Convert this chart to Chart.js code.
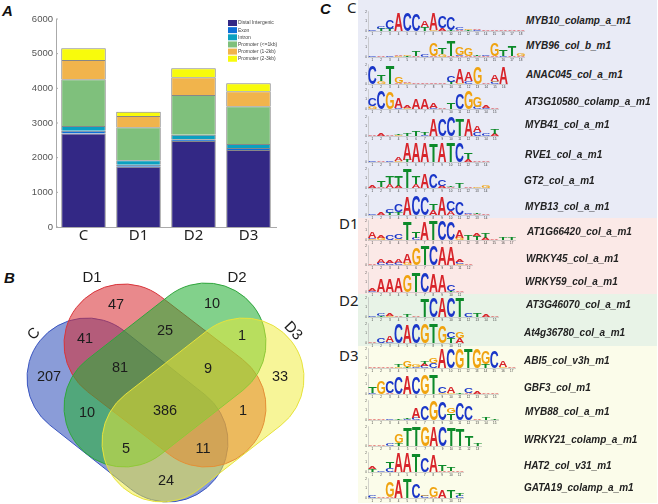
<!DOCTYPE html>
<html>
<head>
<meta charset="utf-8">
<script src="https://cdn.jsdelivr.net/npm/chart.js@4"></script>
<style>
html, body { margin: 0; padding: 0; background: #fff; }
#page { position: relative; width: 658px; height: 504px; overflow: hidden; font-family: "Liberation Sans", sans-serif; }
#page canvas, .block, .panel, .group, .motif { position: absolute; }
.panel { font: italic bold 15px "Liberation Sans", sans-serif; color: #111; line-height: 15px; }
.group { font: 15px "Noto Sans", sans-serif; color: #222; line-height: 15px; }
.motif { font: italic bold 10px "Liberation Sans", sans-serif; color: #222; white-space: nowrap; line-height: 12px; }
</style>
</head>
<body>
<div id="page"></div>
<script>
// ---- A: peak annotation ----
const samples = ['C', 'D1', 'D2', 'D3'];
const annoNames = ['Distal Intergenic', 'Exon', 'Intron', 'Promoter (<=1kb)', 'Promoter (1-2kb)', 'Promoter (2-3kb)'];
const annoColors = ['#332885', '#0d6fd8', '#0ba0c0', '#7fc07c', '#f1b44c', '#f8fb0c'];
const distal = [2700, 1740, 2480, 2220];
const exon = [80, 58, 50, 60];
const intron = [135, 125, 133, 115];
const prom1k = [1345, 952, 1145, 1087];
const prom2k = [555, 327, 509, 432];
const prom3k = [340, 125, 260, 231];
const annoTicks = [0, 1000, 2000, 3000, 4000, 5000, 6000];

// ---- B: venn ----
const vennCounts = [47, 10, 41, 25, 1, 207, 81, 9, 33, 10, 386, 1, 5, 11, 24];
const vennSets = ['C', 'D1', 'D2', 'D3'];

// ---- C: motif logos, letter + height in tenths of a bit, bottom to top ----
const motifNames = ['MYB10_colamp_a_m1', 'MYB96_col_b_m1', 'ANAC045_col_a_m1', 'AT3G10580_colamp_a_m1', 'MYB41_col_a_m1', 'RVE1_col_a_m1', 'GT2_col_a_m1', 'MYB13_col_a_m1',
    'AT1G66420_col_a_m1', 'WRKY45_col_a_m1', 'WRKY59_col_a_m1', 'AT3G46070_col_a_m1', 'At4g36780_col_a_m1',
    'ABI5_col_v3h_m1', 'GBF3_col_m1', 'MYB88_col_a_m1', 'WRKY21_colamp_a_m1', 'HAT2_col_v31_m1', 'GATA19_colamp_a_m1'];
const motifLogos = [
    'C1 T2C2 T2C9 A19 C19 C18 T4A6 G1A17 A3C12 T1C13 A1C2 T1G1 C1A1 A1 A1 A1 A1 A1',
    'C1 A1 C1 G1A1 T1G1 A1T5 C2 A1G14 G3T7 A1T16 A1C1G8 A1G8 A1T1 A1C1 A1G13 C1T7 A1T10 A1G3',
    'C19 G3T6 T19 A1G6 G1A1 A1 A1 A1 A1 T2C6 G1A15 C3A9 G18 A1 C2G1A6 A18',
    'G3C8 C19 G17 C1A10 G1A2 A11 A11 C1A5 A1 T6 C16 G19 C2G11 C1A3 A1',
    'A1 A2 A1 G1T1 T2 T5 C1T3 A18 C18 C20 T17 A17 C4A6 C3 A2T5',
    'C1 A1 C1 G1A4 T2A17 A20 A20 T19 A20 T20 C20 A3T7 A1 A1',
    'A2 A1T6 A4T8 A2T11 T20 A4T8 A15 C15 A2C6 A1T1 T5 A1 G1 G2',
    'C1 A2 T2C4 T3C8 A19 C20 C19 A5T6 A19 A4C11 C13 A1C1 A1T1 A1',
    'G1C1A6 G2A3 C5 G1C5 T19 C2T7 A19 T20 C20 C19 G2A8 T5 T4A3 A2T5 A1 T3 T3',
    'A1 C2A4 C2A3 C2A4 G2A9 G17 T20 C20 A19 A19 G1C2A3 A1',
    'C1A3 A14 A14 A15 G18 T20 C20 A19 A18 T1C6 A1',
    'C1 T1C2 G1A2 A1 T2 A1 T19 C20 A20 C20 T20 C4 T4 A2 A1',
    'A1 C5 C1A6 C20 A19 C20 G20 T20 G17 T5C6 A5G7',
    'A1 A1 A1 G1T2 T1G6 C1G2 C2A2T2 C5G5 A20 C20 G20 T20 G20 T4G13 C18 G1A6 A1',
    'C1T6 G14 A1C12 C18 A19 C18 G20 T20 G1C6 G1A6 T1 A1C5 A2 A1 A1',
    'A1 A1 C1 T1 C1T1 C2A11 C15 G20 C19 T7G5 C17 C15 A1 T2 T1',
    'A1 A1 C3 T3G9 T19 T20 G20 A20 C20 T19 T18 T10 T3',
    'T3A3 C1 C4T6 A20 A20 T19 C15 A17 A1T6 A1T4 A1',
    'C2 A1 A1G16 A19 T20 C15 C2G1 A1G10 A8 T8 C2T3'
];

const page = document.getElementById('page');
const letterColors = { A: '#d8242a', C: '#1a36c8', G: '#f0a30f', T: '#0d8a2a' };

function place(tag, className, text, css) {
    const el = document.createElement(tag);
    el.className = className;
    if (text) el.textContent = text;
    el.style.cssText = css;
    page.appendChild(el);
    return el;
}

function addCanvas(left, top, width, height) {
    const c = place('canvas', '', '', `left:${left}px;top:${top}px;width:${width}px;height:${height}px;`);
    c.width = width;
    c.height = height;
    return c;
}

// coloured bands behind panel C
place('div', 'block', '', 'left:358px;top:0;width:299px;height:218px;background:#e9ebf6;');
place('div', 'block', '', 'left:358px;top:218px;width:299px;height:76px;background:#fbe9e7;');
place('div', 'block', '', 'left:358px;top:294px;width:299px;height:52px;background:#e8f3e7;');
place('div', 'block', '', 'left:358px;top:346px;width:299px;height:157px;background:#fbfcea;');

place('div', 'panel', 'A', 'left:2px;top:3px;');
place('div', 'panel', 'B', 'left:4px;top:270px;');
place('div', 'panel', 'C', 'left:320px;top:1px;');
[['C', 347, 0], ['D1', 339, 216], ['D2', 339, 293], ['D3', 339, 348]].forEach(g => {
    place('div', 'group', g[0], `left:${g[1]}px;top:${g[2]}px;`);
});

// ---- A ----
const annoLegend = {
    id: 'annoLegend',
    afterDraw(chart) {
        const ctx = chart.ctx;
        ctx.save();
        ctx.font = '5px "Liberation Sans"';
        ctx.textBaseline = 'middle';
        chart.data.datasets.forEach((ds, i) => {
            const y = 23 + i * 7.15;
            ctx.fillStyle = ds.backgroundColor;
            ctx.fillRect(228, y - 3, 9, 6);
            ctx.fillStyle = '#444';
            ctx.fillText(ds.label, 238, y);
        });
        // small inward ticks on the y axis
        ctx.strokeStyle = '#aaa';
        ctx.lineWidth = 1;
        annoTicks.forEach(v => {
            const y = chart.scales.y.getPixelForValue(v);
            ctx.beginPath();
            ctx.moveTo(chart.chartArea.left, y);
            ctx.lineTo(chart.chartArea.left + 2, y);
            ctx.stroke();
        });
        ctx.restore();
    }
};

const annoValues = [distal, exon, intron, prom1k, prom2k, prom3k];
new Chart(addCanvas(0, 0, 330, 260), {
    type: 'bar',
    data: {
        labels: samples,
        datasets: annoNames.map((name, i) => ({
            label: name,
            data: annoValues[i],
            backgroundColor: annoColors[i],
            borderColor: 'rgba(95,95,95,0.75)',
            borderWidth: 1,
            barPercentage: 0.81,
            categoryPercentage: 1
        }))
    },
    options: {
        responsive: false,
        animation: false,
        layout: { padding: { top: 19, right: 54 } },
        plugins: { legend: { display: false }, tooltip: { enabled: false } },
        scales: {
            x: {
                stacked: true,
                grid: { display: false, drawTicks: false },
                border: { color: '#aaa', width: 1 },
                ticks: { color: '#222', padding: 0, font: { family: 'Noto Sans', size: 15 } },
                afterFit: s => { s.height = 33; }
            },
            y: {
                stacked: true,
                min: 0,
                max: 6000,
                afterBuildTicks: s => { s.ticks = annoTicks.map(v => ({ value: v })); },
                grid: { display: false, drawTicks: false },
                border: { color: '#aaa', width: 1 },
                ticks: { color: '#555', padding: 3, callback: v => String(v), font: { family: 'Liberation Sans', size: 9.5 } },
                afterFit: s => { s.width = 56; }
            }
        }
    },
    plugins: [annoLegend]
});

// ---- B ----
const vennSpots = [[116, 45], [212, 44], [85, 79], [165, 71], [242, 76], [49, 117], [120, 108], [208, 109], [280, 117],
    [87, 153], [165, 151], [243, 151], [126, 189], [203, 189], [166, 221]];
const vennEnds = [[87, 118, 168, 182], [124, 84, 206, 147], [206, 83, 124, 147], [244, 118, 162, 182]];
const vennFill = ['rgba(60,90,190,0.6)', 'rgba(215,40,45,0.55)', 'rgba(40,175,55,0.58)', 'rgba(240,235,50,0.5)'];
const vennLine = ['#3a55c0', '#d8343a', '#2fa53c', '#e6e23a'];
const vennTitle = [[34, 74, -50], [92, 18, 0], [237, 18, 0], [293, 71, 47]];

const vennPlugin = {
    id: 'vennPlugin',
    beforeDatasetsDraw(chart) {
        const ctx = chart.ctx, sx = chart.scales.x, sy = chart.scales.y;
        const r = sx.getPixelForValue(60) - sx.getPixelForValue(0);
        vennEnds.forEach((e, i) => {
            const x1 = sx.getPixelForValue(e[0]), y1 = sy.getPixelForValue(e[1]);
            const x2 = sx.getPixelForValue(e[2]), y2 = sy.getPixelForValue(e[3]);
            const ang = Math.atan2(y2 - y1, x2 - x1);
            ctx.beginPath();
            ctx.arc(x1, y1, r, ang + Math.PI / 2, ang + 3 * Math.PI / 2);
            ctx.arc(x2, y2, r, ang - Math.PI / 2, ang + Math.PI / 2);
            ctx.closePath();
            ctx.fillStyle = vennFill[i];
            ctx.fill();
            ctx.lineWidth = 1;
            ctx.strokeStyle = vennLine[i];
            ctx.stroke();
        });
    },
    afterDatasetsDraw(chart) {
        const ctx = chart.ctx, sx = chart.scales.x, sy = chart.scales.y;
        ctx.save();
        ctx.fillStyle = '#1c1c1c';
        ctx.textAlign = 'center';
        ctx.textBaseline = 'middle';
        ctx.font = '14.5px "Liberation Sans"';
        chart.getDatasetMeta(0).data.forEach((pt, i) => {
            ctx.fillText(chart.data.datasets[0].data[i].n, pt.x, pt.y);
        });
        ctx.font = '15px "Liberation Sans"';
        vennTitle.forEach((t, i) => {
            ctx.save();
            ctx.translate(sx.getPixelForValue(t[0]), sy.getPixelForValue(t[1]));
            ctx.rotate(t[2] * Math.PI / 180);
            ctx.fillText(vennSets[i], 0, 0);
            ctx.restore();
        });
        ctx.restore();
    }
};

new Chart(addCanvas(0, 260, 330, 244), {
    type: 'scatter',
    data: {
        datasets: [{
            data: vennCounts.map((n, i) => ({ x: vennSpots[i][0], y: vennSpots[i][1], n })),
            pointRadius: 0
        }]
    },
    options: {
        responsive: false,
        animation: false,
        plugins: { legend: { display: false }, tooltip: { enabled: false } },
        scales: {
            x: { display: false, min: 0, max: 330 },
            y: { display: false, min: 0, max: 244, reverse: true }
        }
    },
    plugins: [vennPlugin]
});

// ---- C ----
const logoBase = [31, 57, 84, 109, 136, 162, 188, 215, 240, 265, 292, 317, 343, 368, 394, 420, 446, 472, 498];
const labelLeft = [526, 526, 526, 525, 525, 525, 524, 525, 527, 526, 525, 526, 524, 524, 524, 525, 524, 524, 524];
const labelMid = [21, 46, 75, 102, 125, 155, 181, 207, 232, 259, 282, 305, 333, 361, 388, 412, 440, 466, 488];
const colWidth = 8.7;

// glyphs stretched into the stacked bars, the way a sequence logo draws them
const logoLetters = {
    id: 'logoLetters',
    afterDatasetsDraw(chart) {
        const ctx = chart.ctx;
        chart.data.datasets.forEach((ds, di) => {
            chart.getDatasetMeta(di).data.forEach((bar, i) => {
                const letter = ds.letters[i];
                if (!letter) return;
                const h = bar.base - bar.y;
                ctx.save();
                ctx.font = 'bold 40px "Liberation Sans"';
                const m = ctx.measureText(letter);
                const gw = m.actualBoundingBoxLeft + m.actualBoundingBoxRight;
                const gh = m.actualBoundingBoxAscent + m.actualBoundingBoxDescent;
                ctx.translate(bar.x - bar.width / 2, bar.base);
                ctx.scale(bar.width / gw, h / gh);
                ctx.fillStyle = letterColors[letter];
                ctx.fillText(letter, m.actualBoundingBoxLeft, -m.actualBoundingBoxDescent);
                ctx.restore();
            });
        });
    }
};

motifLogos.forEach((logo, row) => {
    const cols = logo.split(' ').map(c => [...c.matchAll(/([ACGT])(\d+)/g)].map(m => ({ letter: m[1], h: +m[2] })));
    const layers = Math.max(...cols.map(c => c.length));
    const datasets = [];
    for (let k = 0; k < layers; k++) {
        datasets.push({
            data: cols.map(c => c[k] ? c[k].h : 0),
            letters: cols.map(c => c[k] ? c[k].letter : ''),
            backgroundColor: 'transparent',
            barPercentage: 1,
            categoryPercentage: 0.96
        });
    }
    const yTop = logoBase[row] - 22;
    new Chart(addCanvas(358, yTop, Math.ceil(cols.length * colWidth) + 10, 26), {
        type: 'bar',
        data: { labels: cols.map((c, i) => String(i + 1)), datasets },
        options: {
            responsive: false,
            animation: false,
            layout: { padding: 0 },
            plugins: { legend: { display: false }, tooltip: { enabled: false } },
            scales: {
                x: {
                    stacked: true,
                    grid: { display: false, drawTicks: false },
                    border: { color: '#aaa', width: 0.5 },
                    ticks: { color: '#333', padding: 1, maxRotation: 0, autoSkip: false, font: { size: 3 } },
                    afterFit: s => { s.height = 4; }
                },
                y: {
                    stacked: true,
                    min: 0,
                    max: 20,
                    grid: { display: false, drawTicks: false },
                    border: { color: '#aaa', width: 0.5 },
                    afterBuildTicks: s => { s.ticks = [0, 10, 20].map(v => ({ value: v })); },
                    ticks: { color: '#444', padding: 1, font: { size: 3 }, callback: v => v / 10 },
                    afterFit: s => { s.width = 10; }
                }
            }
        },
        plugins: [logoLetters]
    });
    place('div', 'motif', motifNames[row], `left:${labelLeft[row]}px;top:${labelMid[row] - 6}px;`);
});
</script>
</body>
</html>
